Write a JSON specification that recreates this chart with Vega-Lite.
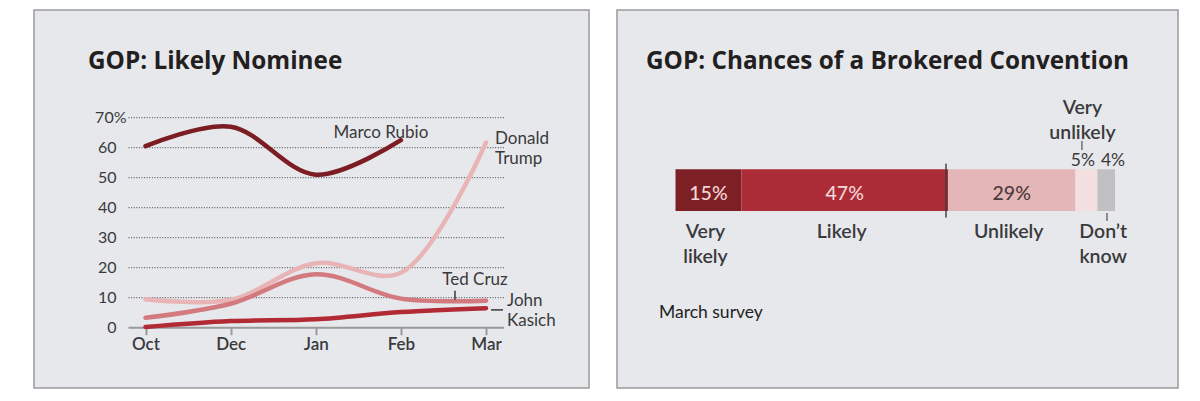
{
  "$schema": "https://vega.github.io/schema/vega-lite/v6.json",
  "background": "#ffffff",
  "padding": {"left": 33, "top": 9, "right": 0, "bottom": 0},
  "spacing": 28,
  "bounds": "flush",
  "resolve": {"scale": {"color": "independent", "x": "independent", "y": "independent"}},
  "config": {
    "view": {"fill": "#e7e8ec", "stroke": "#9b9b9b", "strokeWidth": 1.5},
    "font": "Lato",
    "text": {"font": "Lato", "color": "#3a3a3c"},
    "title": {"font": "Open Sans", "fontSize": 24.3, "fontWeight": "bold", "color": "#231f20", "anchor": "start", "frame": "group", "baseline": "alphabetic", "offset": 0}
  },
  "hconcat": [
    {
      "width": 555,
      "height": 378,
      "title": {"text": "GOP: Likely Nominee", "dx": 54, "dy": 68},
      "data": {"values": [
        {"candidate": "Donald Trump", "month": "Oct", "v": 9.5},
        {"candidate": "Donald Trump", "month": "Dec", "v": 9.3},
        {"candidate": "Donald Trump", "month": "Jan", "v": 21.5},
        {"candidate": "Donald Trump", "month": "Feb", "v": 18.3},
        {"candidate": "Donald Trump", "month": "Mar", "v": 61.7},
        {"candidate": "Ted Cruz", "month": "Oct", "v": 3.3},
        {"candidate": "Ted Cruz", "month": "Dec", "v": 8},
        {"candidate": "Ted Cruz", "month": "Jan", "v": 17.8},
        {"candidate": "Ted Cruz", "month": "Feb", "v": 9.7},
        {"candidate": "Ted Cruz", "month": "Mar", "v": 9},
        {"candidate": "John Kasich", "month": "Oct", "v": 0.2},
        {"candidate": "John Kasich", "month": "Dec", "v": 2.2},
        {"candidate": "John Kasich", "month": "Jan", "v": 2.8},
        {"candidate": "John Kasich", "month": "Feb", "v": 5.2},
        {"candidate": "John Kasich", "month": "Mar", "v": 6.5},
        {"candidate": "Marco Rubio", "month": "Oct", "v": 60.5},
        {"candidate": "Marco Rubio", "month": "Dec", "v": 67},
        {"candidate": "Marco Rubio", "month": "Jan", "v": 51},
        {"candidate": "Marco Rubio", "month": "Feb", "v": 62.5}
      ]},
      "layer": [
        {
          "data": {"values": [{"v": 10}, {"v": 20}, {"v": 30}, {"v": 40}, {"v": 50}, {"v": 60}, {"v": 70}]},
          "mark": {"type": "rule", "strokeDash": [1, 1.6], "color": "#3c3c3c", "strokeWidth": 1, "xOffset": -17, "x2Offset": 18},
          "encoding": {
            "y": {"field": "v", "type": "quantitative",
              "scale": {"domain": [0, 70], "range": [317.7, 107.7], "nice": false, "zero": false},
              "axis": {"orient": "left", "offset": -82, "values": [0, 10, 20, 30, 40, 50, 60, 70],
                "labelExpr": "datum.value == 70 ? '70%' : datum.label",
                "labelPadding": {"condition": {"test": "datum.value == 70", "value": -10}, "value": 0},
                "ticks": false, "tickSize": 0, "domain": false, "grid": false, "title": null,
                "labelFontSize": 16, "labelColor": "#3a3a3c", "labelFont": "Lato"}},
            "x": {"datum": "Oct", "type": "ordinal"},
            "x2": {"datum": "Mar"}
          }
        },
        {
          "data": {"values": [{"v": 0}]},
          "mark": {"type": "rule", "color": "#9a9a9a", "strokeWidth": 2, "xOffset": -17, "x2Offset": 18},
          "encoding": {
            "y": {"field": "v", "type": "quantitative"},
            "x": {"datum": "Oct", "type": "ordinal"},
            "x2": {"datum": "Mar"}
          }
        },
        {
          "mark": {"type": "line", "interpolate": "catmull-rom", "strokeWidth": 4.5, "strokeCap": "round"},
          "encoding": {
            "x": {"field": "month", "type": "ordinal",
              "scale": {"type": "point", "domain": ["Oct", "Dec", "Jan", "Feb", "Mar"], "range": [111.5, 452], "padding": 0},
              "axis": {"orient": "bottom", "offset": -60.3, "domain": false, "grid": false, "tickSize": 7, "tickWidth": 2,
                "tickColor": "#9a9a9a", "labelFontSize": 17, "labelFontWeight": 600, "labelColor": "#3a3a3c",
                "labelPadding": 2, "labelAngle": 0, "labelAlign": "center", "labelBaseline": "top", "title": null, "labelFont": "Lato"}},
            "y": {"field": "v", "type": "quantitative"},
            "color": {"field": "candidate", "type": "nominal",
              "scale": {"domain": ["Donald Trump", "Ted Cruz", "John Kasich", "Marco Rubio"],
                "range": ["#e8b4b6", "#d37a7f", "#b22a33", "#7b1d23"]},
              "legend": null}
          }
        },
        {
          "transform": [{"filter": "datum.candidate == 'Marco Rubio' && datum.month == 'Feb'"}],
          "mark": {"type": "text", "align": "center", "baseline": "alphabetic", "dx": -20, "dy": -2, "fontSize": 17},
          "encoding": {"x": {"field": "month", "type": "ordinal"}, "y": {"field": "v", "type": "quantitative"}, "text": {"field": "candidate"}}
        },
        {
          "transform": [{"filter": "datum.candidate == 'Donald Trump' && datum.month == 'Mar'"}],
          "mark": {"type": "text", "align": "left", "baseline": "alphabetic", "dx": 9, "dy": 1, "fontSize": 17, "lineBreak": " ", "lineHeight": 20},
          "encoding": {"x": {"field": "month", "type": "ordinal"}, "y": {"field": "v", "type": "quantitative"}, "text": {"field": "candidate"}}
        },
        {
          "transform": [{"filter": "datum.candidate == 'Ted Cruz' && datum.month == 'Mar'"}],
          "mark": {"type": "text", "align": "center", "baseline": "alphabetic", "dx": -11, "dy": -15.3, "fontSize": 17},
          "encoding": {"x": {"field": "month", "type": "ordinal"}, "y": {"field": "v", "type": "quantitative"}, "text": {"field": "candidate"}}
        },
        {
          "transform": [{"filter": "datum.candidate == 'Ted Cruz' && datum.month == 'Mar'"}],
          "mark": {"type": "rule", "color": "#3a3a3c", "strokeWidth": 1.5, "xOffset": -31, "yOffset": -10, "y2Offset": -1},
          "encoding": {"x": {"field": "month", "type": "ordinal"}, "y": {"field": "v", "type": "quantitative"}, "y2": {"field": "v"}}
        },
        {
          "transform": [{"filter": "datum.candidate == 'John Kasich' && datum.month == 'Mar'"}],
          "mark": {"type": "text", "align": "left", "baseline": "alphabetic", "dx": 21, "dy": -2.3, "fontSize": 17, "lineBreak": " ", "lineHeight": 20},
          "encoding": {"x": {"field": "month", "type": "ordinal"}, "y": {"field": "v", "type": "quantitative"}, "text": {"field": "candidate"}}
        },
        {
          "transform": [{"filter": "datum.candidate == 'John Kasich' && datum.month == 'Mar'"}],
          "mark": {"type": "rule", "color": "#3a3a3c", "strokeWidth": 1.5, "xOffset": 5, "x2Offset": 17, "yOffset": 1.7},
          "encoding": {"x": {"field": "month", "type": "ordinal"}, "x2": {"field": "month"}, "y": {"field": "v", "type": "quantitative"}}
        }
      ]
    },
    {
      "width": 561,
      "height": 378,
      "title": {"text": "GOP: Chances of a Brokered Convention", "dx": 29, "dy": 68},
      "data": {"values": [
        {"survey": "March survey", "answer": "Very likely", "pct": 0.15, "ord": 1},
        {"survey": "March survey", "answer": "Likely", "pct": 0.47, "ord": 2},
        {"survey": "March survey", "answer": "Unlikely", "pct": 0.29, "ord": 3},
        {"survey": "March survey", "answer": "Very unlikely", "pct": 0.05, "ord": 4},
        {"survey": "March survey", "answer": "Don’t know", "pct": 0.04, "ord": 5}
      ]},
      "transform": [{"stack": "pct", "groupby": ["survey"], "sort": [{"field": "ord", "order": "ascending"}], "as": ["p0", "p1"]}],
      "encoding": {
        "y": {"field": "survey", "type": "nominal", "scale": {"range": [159.3, 201], "paddingInner": 0, "paddingOuter": 0}, "axis": null}
      },
      "layer": [
        {
          "mark": {"type": "bar"},
          "encoding": {
            "x": {"field": "p0", "type": "quantitative", "scale": {"domain": [0, 1], "range": [58.5, 498], "nice": false, "zero": false}, "axis": null},
            "x2": {"field": "p1"},
            "color": {"field": "answer", "type": "nominal",
              "scale": {"domain": ["Very likely", "Likely", "Unlikely", "Very unlikely", "Don’t know"],
                "range": ["#7c2025", "#ab2c36", "#e5b6b8", "#f3dfe0", "#c0c0c2"]},
              "legend": null}
          }
        },
        {
          "transform": [{"filter": "datum.answer == 'Likely'"}],
          "mark": {"type": "tick", "thickness": 2, "size": 54, "color": "#3a3a3c", "yOffset": 0.5, "xOffset": -2},
          "encoding": {"x": {"field": "p1", "type": "quantitative"}}
        },
        {
          "transform": [{"filter": "datum.ord == 5"}],
          "mark": {"type": "tick", "thickness": 1.5, "size": 8, "color": "#3a3a3c", "yOffset": 26.8, "xOffset": -8},
          "encoding": {"x": {"field": "p1", "type": "quantitative"}}
        },
        {
          "transform": [{"filter": "datum.ord == 4"}],
          "mark": {"type": "tick", "thickness": 1.5, "size": 9, "color": "#3a3a3c", "yOffset": -44.6, "xOffset": -15.5},
          "encoding": {"x": {"field": "p1", "type": "quantitative"}}
        },
        {
          "transform": [{"filter": "datum.ord == 1"}],
          "mark": {"type": "text", "align": "left", "baseline": "middle", "dy": 122.5, "dx": -16.5, "fontSize": 17.5, "color": "#222222"},
          "encoding": {"x": {"field": "p0", "type": "quantitative"}, "text": {"field": "survey"}}
        },
        {
          "transform": [
            {"fold": ["p0", "p1"], "as": ["edge", "xe"]},
            {"aggregate": [{"op": "mean", "field": "xe", "as": "mid"}], "groupby": ["survey", "answer", "pct", "ord"]}
          ],
          "layer": [
            {
              "transform": [{"filter": "datum.ord <= 3"}],
              "mark": {"type": "text", "align": "center", "baseline": "alphabetic", "dy": 9.8, "fontSize": 19.5, "fontWeight": 500},
              "encoding": {
                "x": {"field": "mid", "type": "quantitative"},
                "text": {"field": "pct", "type": "quantitative", "format": ".0%"},
                "color": {"condition": {"test": "datum.answer == 'Unlikely'", "value": "#4d3a3c"}, "value": "#f4d6d8"}
              }
            },
            {
              "transform": [{"filter": "datum.answer != 'Very unlikely'"}],
              "mark": {"type": "text", "align": "center", "baseline": "alphabetic", "dy": 47.5, "dx": -3, "fontSize": 19.5, "fontWeight": 600, "lineBreak": " ", "lineHeight": 25},
              "encoding": {"x": {"field": "mid", "type": "quantitative"}, "text": {"field": "answer"}}
            },
            {
              "transform": [{"filter": "datum.answer == 'Very unlikely'"}],
              "mark": {"type": "text", "align": "center", "baseline": "alphabetic", "dy": -76.5, "dx": -4, "fontSize": 19.5, "fontWeight": 600, "lineBreak": " ", "lineHeight": 25},
              "encoding": {"x": {"field": "mid", "type": "quantitative"}, "text": {"field": "answer"}}
            },
            {
              "transform": [{"filter": "datum.ord == 4"}],
              "mark": {"type": "text", "align": "center", "baseline": "alphabetic", "dy": -24, "dx": -3.6, "fontSize": 17.5},
              "encoding": {"x": {"field": "mid", "type": "quantitative"}, "text": {"field": "pct", "type": "quantitative", "format": ".0%"}}
            },
            {
              "transform": [{"filter": "datum.ord == 5"}],
              "mark": {"type": "text", "align": "center", "baseline": "alphabetic", "dy": -24, "dx": 6.8, "fontSize": 17.5},
              "encoding": {"x": {"field": "mid", "type": "quantitative"}, "text": {"field": "pct", "type": "quantitative", "format": ".0%"}}
            }
          ]
        }
      ]
    }
  ]
}
